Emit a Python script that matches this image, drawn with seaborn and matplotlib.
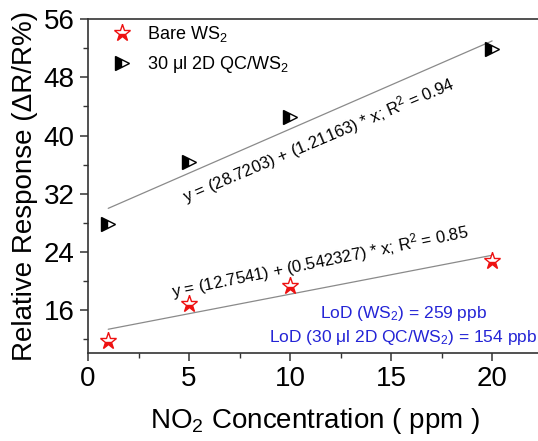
import matplotlib
matplotlib.use("Agg")
import matplotlib.pyplot as plt
import seaborn as sns
import numpy as np
import pandas as pd
from matplotlib.ticker import MultipleLocator

conc = [1, 5, 10, 20]
bare_ws2 = [11.7, 16.7, 19.2, 22.7]
qc_ws2 = [27.8, 36.4, 42.6, 51.9]

label_bare = "Bare WS$_2$"
label_qc = "30 \u03bcl 2D QC/WS$_2$"
eq_bare = "y = (12.7541) + (0.542327) * x; R$^2$ = 0.85"
eq_qc = "y = (28.7203) + (1.21163) * x; R$^2$ = 0.94"
lod_lines = ["LoD (WS$_2$) = 259 ppb", "LoD (30 \u03bcl 2D QC/WS$_2$) = 154 ppb"]

sns.set_theme(style="ticks")
plt.rcParams['font.family'] = ['Liberation Sans', 'DejaVu Sans']
plt.rcParams['mathtext.fontset'] = 'custom'
plt.rcParams['mathtext.rm'] = 'Liberation Sans'
plt.rcParams['mathtext.it'] = 'Liberation Sans:italic'
plt.rcParams['text.color'] = 'black'
plt.rcParams['axes.labelcolor'] = 'black'
plt.rcParams['xtick.labelcolor'] = 'black'
plt.rcParams['ytick.labelcolor'] = 'black'

df = pd.DataFrame({"x": conc, "bare": bare_ws2, "qc": qc_ws2})

fig = plt.figure(figsize=(5.38, 4.41), dpi=100)
ax = fig.add_axes([0.1636, 0.1995, 0.845, 0.7563])

# fit lines
for col in ["bare", "qc"]:
    sns.regplot(data=df, x="x", y=col, ax=ax, scatter=False, ci=None, truncate=True,
                line_kws=dict(color="#8a8a8a", lw=0.9))

sns.lineplot(data=df, x="x", y="bare", ax=ax, estimator=None, linestyle="", marker="*",
             markersize=12.5, fillstyle="bottom", markerfacecolor="#ee1111",
             markerfacecoloralt="white", markeredgecolor="#ee1111", markeredgewidth=1.0,
             label=label_bare)
sns.lineplot(data=df, x="x", y="qc", ax=ax, estimator=None, linestyle="", marker=">",
             markersize=10, fillstyle="left", markerfacecolor="black",
             markerfacecoloralt="white", markeredgecolor="black", markeredgewidth=1.0,
             label=label_qc)

ax.set_xlim(0, 22.5)
ax.set_ylim(10, 56)
ax.xaxis.set_major_locator(MultipleLocator(5))
ax.xaxis.set_minor_locator(MultipleLocator(2.5))
ax.set_yticks([16, 24, 32, 40, 48, 56])
ax.set_yticks(np.arange(12, 57, 4), minor=True)

for s in ["left", "bottom", "top", "right"]:
    ax.spines[s].set_visible(True)
    ax.spines[s].set_color("#333333")
    ax.spines[s].set_linewidth(1.2)
ax.tick_params(which="major", direction="out", length=6, width=1.1, labelsize=20,
               colors="#333333", labelcolor="black", top=False, right=False)
ax.tick_params(which="minor", direction="out", length=3.5, width=1.0, colors="#333333",
               top=False, right=False)

ax.set_xlabel("NO$_2$ Concentration ( ppm )", fontsize=20, labelpad=10)
ax.set_ylabel("Relative Response (\u0394R/R%)", fontsize=20, labelpad=4)

ax.text(11.4, 39.4, eq_qc, fontsize=12, rotation=23, ha="center", va="center",
        rotation_mode="anchor")
ax.text(11.5, 22.6, eq_bare, fontsize=12, rotation=11.5, ha="center", va="center",
        rotation_mode="anchor")
ax.text(15.6, 15.5, lod_lines[0], fontsize=12.5, color="#2424d6", ha="center", va="center")
ax.text(15.6, 12.1, lod_lines[1], fontsize=12.5, color="#2424d6", ha="center", va="center")

leg = ax.legend(loc="upper left", bbox_to_anchor=(0.01, 1.035), frameon=False, fontsize=13,
                handletextpad=0.6, labelspacing=0.55, handlelength=1.5)

fig.savefig("out.png", dpi=100)
